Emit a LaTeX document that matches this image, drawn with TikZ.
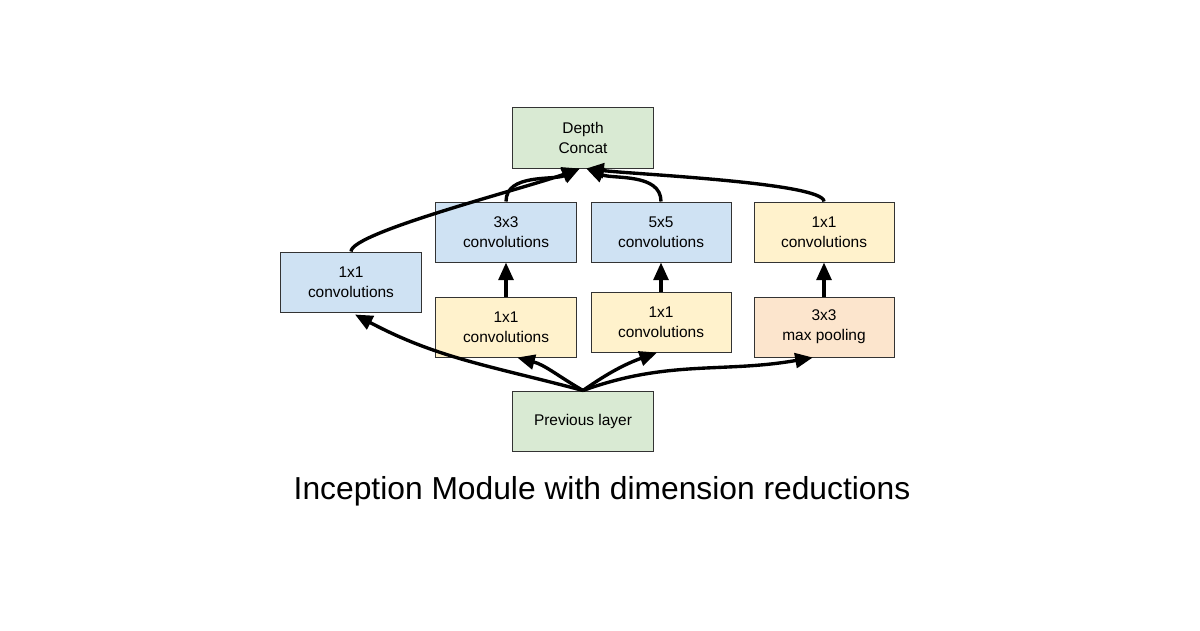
\documentclass[tikz,border=0pt]{standalone}
\usepackage{fontspec}
\setmainfont{Liberation Sans}
\usepackage{tikz}
\usetikzlibrary{arrows.meta}

\definecolor{boxgreen}{HTML}{D9EAD3}
\definecolor{boxblue}{HTML}{CFE2F3}
\definecolor{boxyellow}{HTML}{FFF2CC}
\definecolor{boxorange}{HTML}{FCE5CD}
\definecolor{boxline}{HTML}{333333}

\tikzset{
  layer/.style={draw=boxline, line width=0.7pt, minimum width=3.5cm, minimum height=1.5cm,
    align=center, inner sep=0pt, font=\fontsize{11}{14}\selectfont},
  flow/.style={line width=2.4pt, -{Triangle[length=0.44cm,width=0.37cm]}}
}

\begin{document}
\begin{tikzpicture}[x=0.025cm, y=-0.025cm]
\useasboundingbox (0,0) rectangle (1200,630);
\node[layer, fill=boxgreen] (concat) at (583,138) {Depth\\Concat};
\node[layer, fill=boxblue] (conv3) at (506,232) {3x3\\convolutions};
\node[layer, fill=boxblue] (conv5) at (661,232) {5x5\\convolutions};
\node[layer, fill=boxyellow] (poolproj) at (824,232) {1x1\\convolutions};
\node[layer, fill=boxblue] (conv1) at (351,282) {1x1\\convolutions};
\node[layer, fill=boxyellow] (red3) at (506,327) {1x1\\convolutions};
\node[layer, fill=boxyellow] (red5) at (661,322) {1x1\\convolutions};
\node[layer, fill=boxorange] (pool) at (824,327) {3x3\\max pooling};
\node[layer, fill=boxgreen] (prev) at (583,421) {Previous layer};
\node[font=\fontsize{22.6}{27}\selectfont] (title) at (602,491) {Inception Module with dimension reductions};
% branches into the concat
\draw[flow] (conv1.north) to[out=90, in=200, out looseness=0.2, in looseness=0.6] ([xshift=-0.08cm]concat.south);
\draw[flow] (conv3.north) to[out=90, in=205, looseness=0.9] ([xshift=-0.08cm]concat.south);
\draw[flow] (conv5.north) to[out=90, in=-22, looseness=0.9] ([xshift=0.08cm]concat.south);
\draw[flow] (poolproj.north) to[out=90, in=-7, out looseness=0.2, in looseness=0.5] ([xshift=0.08cm]concat.south);
% reductions
\draw[flow] (red3.north) -- (conv3.south);
\draw[flow] (red5.north) -- (conv5.south);
\draw[flow] (pool.north) -- (poolproj.south);
% from the previous layer
\draw[flow] (prev.north) to[out=165, in=-28] ([xshift=0.1cm,yshift=-0.05cm]conv1.south);
\draw[flow] (prev.north) to[out=150, in=-15] ([xshift=0.28cm]red3.south);
\draw[flow] (prev.north) to[out=35, in=200] ([xshift=-0.1cm]red5.south);
\draw[flow] (prev.north) to[out=20, in=190] ([xshift=-0.28cm]pool.south);
\end{tikzpicture}
\end{document}
